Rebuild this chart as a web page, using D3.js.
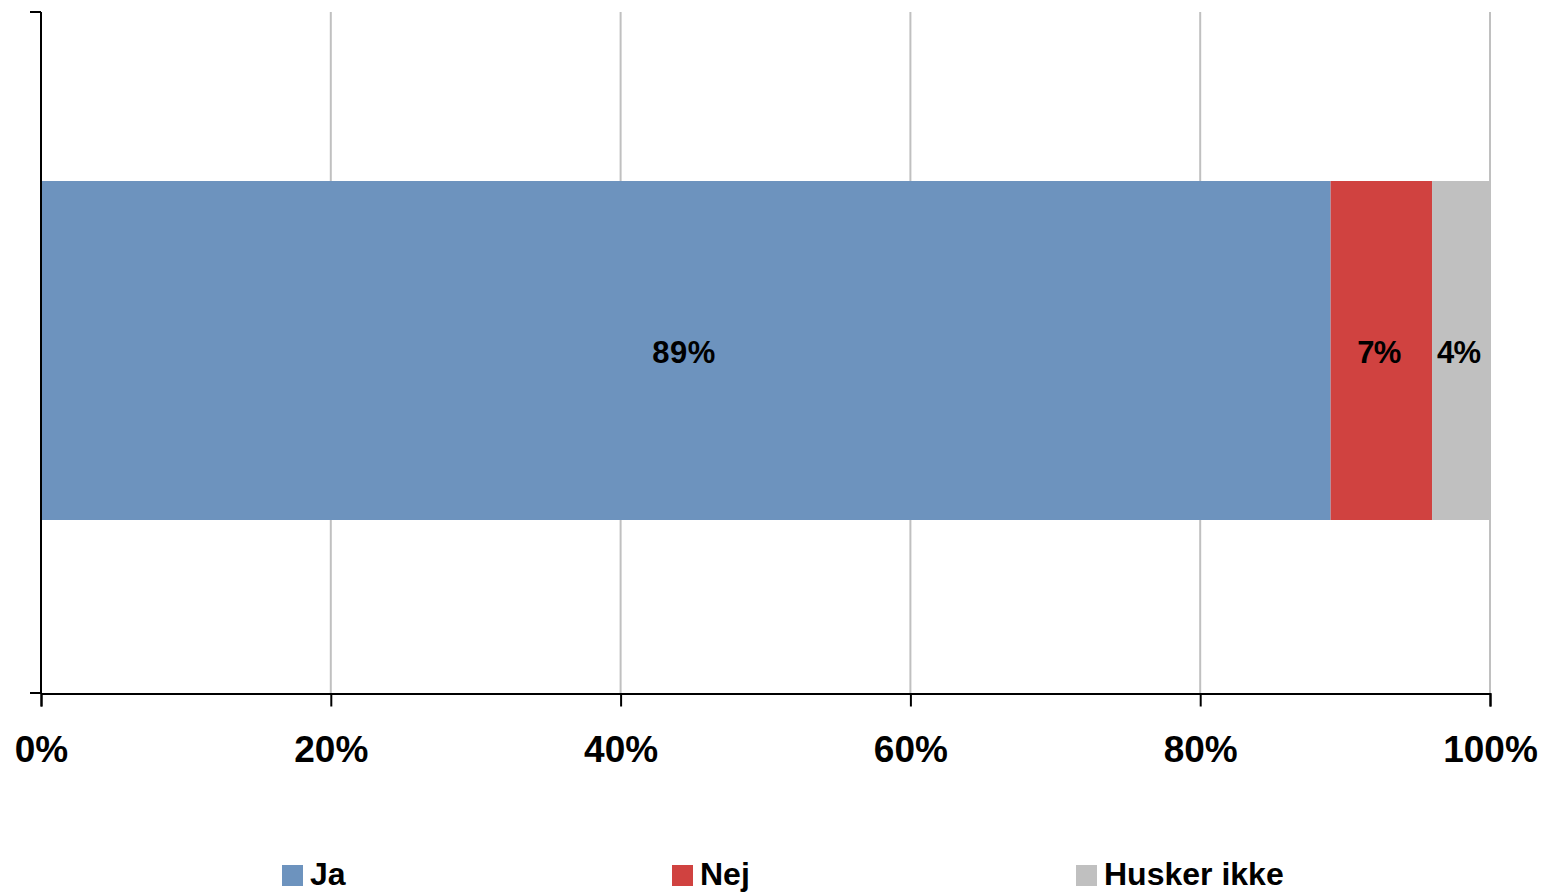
<!DOCTYPE html>
<html><head><meta charset="utf-8">
<script src="https://cdn.jsdelivr.net/npm/d3@7"></script>
<style>body{margin:0;background:#fff}svg{display:block}text{font-family:"Liberation Sans",Arial,sans-serif;font-weight:bold;fill:#000}</style>
</head><body>
<svg id="c" width="1544" height="892"></svg>
<script>
const seriesNames = ["Ja", "Nej", "Husker ikke"];
const seriesValues = [89, 7, 4];
const seriesColors = ["#6d93be", "#d04240", "#c0c0c0"];
const tickValues = [0, 20, 40, 60, 80, 100];
const category = ["Svar"];

const svg = d3.select("#c");
const x = d3.scaleLinear().domain([0, 100]).range([41, 1490]);

// gridlines
svg.append("g").selectAll("line").data(tickValues.slice(1)).join("line")
  .attr("x1", d => x(d)).attr("x2", d => x(d)).attr("y1", 12).attr("y2", 693)
  .attr("stroke", "#c0c0c0").attr("stroke-width", 2);

// stacked bars
let cum = 0;
const stack = seriesValues.map((v, i) => { const s = {name: seriesNames[i], v, x0: cum, x1: cum + v, c: seriesColors[i]}; cum += v; return s; });
svg.append("g").selectAll("rect").data(stack).join("rect")
  .attr("x", d => x(d.x0)).attr("width", d => x(d.x1) - x(d.x0))
  .attr("y", 181).attr("height", 339)
  .attr("fill", d => d.c);
svg.append("g").selectAll("text").data(stack).join("text")
  .attr("x", d => (x(d.x0) + x(d.x1)) / 2 - 2).attr("y", 363)
  .attr("text-anchor", "middle")
  .attr("font-size", 31).attr("textLength", d => String(d.v).length === 2 ? 63 : 44).text(d => d.v + "%");

// axes
const xAxis = d3.axisBottom(x).tickValues(tickValues).tickFormat(d => d + "%").tickSize(13).tickPadding(30);
const gx = svg.append("g").attr("transform", "translate(0,693.5)").call(xAxis);
gx.select(".domain").attr("stroke", "#000").attr("stroke-width", 2);
gx.selectAll(".tick line").attr("stroke", "#000").attr("stroke-width", 2);
gx.selectAll(".tick text").attr("font-size", 37).attr("dy", 0).attr("y", 68.5)
  .attr("font-family", "Liberation Sans, Arial, sans-serif").attr("font-weight", "bold").attr("fill", "#000");

svg.append("line").attr("x1", 41).attr("x2", 41).attr("y1", 12).attr("y2", 694).attr("stroke", "#000").attr("stroke-width", 2);
svg.append("g").selectAll("line").data([12, 693]).join("line")
  .attr("x1", 30).attr("x2", 41).attr("y1", d => d).attr("y2", d => d)
  .attr("stroke", "#000").attr("stroke-width", 2);

// legend
const legX = [282, 672, 1076];
const lg = svg.append("g").selectAll("g").data(seriesNames).join("g")
  .attr("transform", (d, i) => `translate(${legX[i]},865)`);
lg.append("rect").attr("width", 21).attr("height", 21).attr("fill", (d, i) => seriesColors[i]);
lg.append("text").attr("x", 28).attr("y", 20).attr("font-size", 32).text(d => d);
</script>
</body></html>
